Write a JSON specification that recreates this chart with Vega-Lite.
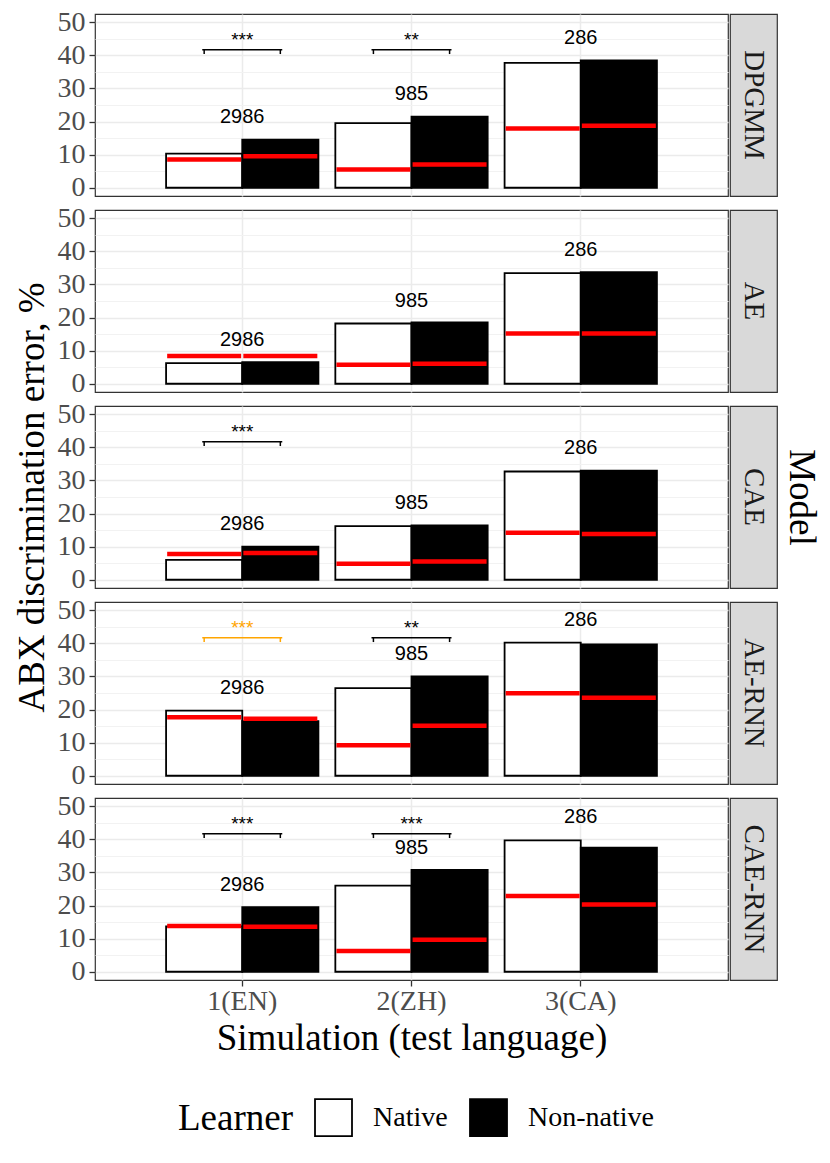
{
  "$schema": "https://vega.github.io/schema/vega-lite/v6.json",
  "background": "white",
  "padding": {"top": 7, "left": 12, "right": 5, "bottom": 5},
  "datasets": {
    "bars": [
      {"Model": "DPGMM", "Simulation": "1(EN)", "Learner": "Native", "error": 10.3, "baseline": 8.5},
      {"Model": "DPGMM", "Simulation": "1(EN)", "Learner": "Non-native", "error": 14.5, "baseline": 9.5},
      {"Model": "DPGMM", "Simulation": "2(ZH)", "Learner": "Native", "error": 19.5, "baseline": 5.5},
      {"Model": "DPGMM", "Simulation": "2(ZH)", "Learner": "Non-native", "error": 21.5, "baseline": 7.0},
      {"Model": "DPGMM", "Simulation": "3(CA)", "Learner": "Native", "error": 37.7, "baseline": 17.9},
      {"Model": "DPGMM", "Simulation": "3(CA)", "Learner": "Non-native", "error": 38.5, "baseline": 18.7},
      {"Model": "AE", "Simulation": "1(EN)", "Learner": "Native", "error": 6.2, "baseline": 8.4},
      {"Model": "AE", "Simulation": "1(EN)", "Learner": "Non-native", "error": 6.5, "baseline": 8.4},
      {"Model": "AE", "Simulation": "2(ZH)", "Learner": "Native", "error": 18.2, "baseline": 5.7},
      {"Model": "AE", "Simulation": "2(ZH)", "Learner": "Non-native", "error": 18.5, "baseline": 6.0},
      {"Model": "AE", "Simulation": "3(CA)", "Learner": "Native", "error": 33.4, "baseline": 15.2},
      {"Model": "AE", "Simulation": "3(CA)", "Learner": "Non-native", "error": 33.7, "baseline": 15.2},
      {"Model": "CAE", "Simulation": "1(EN)", "Learner": "Native", "error": 6.0, "baseline": 7.8},
      {"Model": "CAE", "Simulation": "1(EN)", "Learner": "Non-native", "error": 10.0, "baseline": 8.1},
      {"Model": "CAE", "Simulation": "2(ZH)", "Learner": "Native", "error": 16.2, "baseline": 4.8},
      {"Model": "CAE", "Simulation": "2(ZH)", "Learner": "Non-native", "error": 16.4, "baseline": 5.5},
      {"Model": "CAE", "Simulation": "3(CA)", "Learner": "Native", "error": 32.7, "baseline": 14.2},
      {"Model": "CAE", "Simulation": "3(CA)", "Learner": "Non-native", "error": 33.0, "baseline": 13.8},
      {"Model": "AE-RNN", "Simulation": "1(EN)", "Learner": "Native", "error": 19.7, "baseline": 17.7},
      {"Model": "AE-RNN", "Simulation": "1(EN)", "Learner": "Non-native", "error": 16.5, "baseline": 17.2},
      {"Model": "AE-RNN", "Simulation": "2(ZH)", "Learner": "Native", "error": 26.5, "baseline": 9.2},
      {"Model": "AE-RNN", "Simulation": "2(ZH)", "Learner": "Non-native", "error": 30.0, "baseline": 15.1},
      {"Model": "AE-RNN", "Simulation": "3(CA)", "Learner": "Native", "error": 40.2, "baseline": 24.9},
      {"Model": "AE-RNN", "Simulation": "3(CA)", "Learner": "Non-native", "error": 39.7, "baseline": 23.6},
      {"Model": "CAE-RNN", "Simulation": "1(EN)", "Learner": "Native", "error": 13.7, "baseline": 13.8},
      {"Model": "CAE-RNN", "Simulation": "1(EN)", "Learner": "Non-native", "error": 19.5, "baseline": 13.6},
      {"Model": "CAE-RNN", "Simulation": "2(ZH)", "Learner": "Native", "error": 26.0, "baseline": 6.3},
      {"Model": "CAE-RNN", "Simulation": "2(ZH)", "Learner": "Non-native", "error": 30.8, "baseline": 9.7},
      {"Model": "CAE-RNN", "Simulation": "3(CA)", "Learner": "Native", "error": 39.7, "baseline": 22.9},
      {"Model": "CAE-RNN", "Simulation": "3(CA)", "Learner": "Non-native", "error": 37.5, "baseline": 20.3}
    ],
    "labels": [
      {"Model": "DPGMM", "Simulation": "1(EN)", "n": "2986", "y": 21.5},
      {"Model": "DPGMM", "Simulation": "2(ZH)", "n": "985", "y": 28.2},
      {"Model": "DPGMM", "Simulation": "3(CA)", "n": "286", "y": 45.3},
      {"Model": "AE", "Simulation": "1(EN)", "n": "2986", "y": 13.2},
      {"Model": "AE", "Simulation": "2(ZH)", "n": "985", "y": 25.0},
      {"Model": "AE", "Simulation": "3(CA)", "n": "286", "y": 40.4},
      {"Model": "CAE", "Simulation": "1(EN)", "n": "2986", "y": 16.7},
      {"Model": "CAE", "Simulation": "2(ZH)", "n": "985", "y": 23.3},
      {"Model": "CAE", "Simulation": "3(CA)", "n": "286", "y": 39.7},
      {"Model": "AE-RNN", "Simulation": "1(EN)", "n": "2986", "y": 26.5},
      {"Model": "AE-RNN", "Simulation": "2(ZH)", "n": "985", "y": 36.7},
      {"Model": "AE-RNN", "Simulation": "3(CA)", "n": "286", "y": 47.2},
      {"Model": "CAE-RNN", "Simulation": "1(EN)", "n": "2986", "y": 26.2},
      {"Model": "CAE-RNN", "Simulation": "2(ZH)", "n": "985", "y": 37.5},
      {"Model": "CAE-RNN", "Simulation": "3(CA)", "n": "286", "y": 46.7}
    ],
    "signif": [
      {"Model": "DPGMM", "Simulation": "1(EN)", "Learner": "Native", "stars": "***", "higher": "Non-native", "top": 41.7, "tail": 40.4},
      {"Model": "DPGMM", "Simulation": "1(EN)", "Learner": "Non-native", "stars": "***", "higher": "Non-native", "top": 41.7, "tail": 40.4},
      {"Model": "DPGMM", "Simulation": "2(ZH)", "Learner": "Native", "stars": "**", "higher": "Non-native", "top": 41.7, "tail": 40.4},
      {"Model": "DPGMM", "Simulation": "2(ZH)", "Learner": "Non-native", "stars": "**", "higher": "Non-native", "top": 41.7, "tail": 40.4},
      {"Model": "CAE", "Simulation": "1(EN)", "Learner": "Native", "stars": "***", "higher": "Non-native", "top": 41.7, "tail": 40.4},
      {"Model": "CAE", "Simulation": "1(EN)", "Learner": "Non-native", "stars": "***", "higher": "Non-native", "top": 41.7, "tail": 40.4},
      {"Model": "AE-RNN", "Simulation": "1(EN)", "Learner": "Native", "stars": "***", "higher": "Native", "top": 41.7, "tail": 40.4},
      {"Model": "AE-RNN", "Simulation": "1(EN)", "Learner": "Non-native", "stars": "***", "higher": "Native", "top": 41.7, "tail": 40.4},
      {"Model": "AE-RNN", "Simulation": "2(ZH)", "Learner": "Native", "stars": "**", "higher": "Non-native", "top": 41.7, "tail": 40.4},
      {"Model": "AE-RNN", "Simulation": "2(ZH)", "Learner": "Non-native", "stars": "**", "higher": "Non-native", "top": 41.7, "tail": 40.4},
      {"Model": "CAE-RNN", "Simulation": "1(EN)", "Learner": "Native", "stars": "***", "higher": "Non-native", "top": 41.7, "tail": 40.4},
      {"Model": "CAE-RNN", "Simulation": "1(EN)", "Learner": "Non-native", "stars": "***", "higher": "Non-native", "top": 41.7, "tail": 40.4},
      {"Model": "CAE-RNN", "Simulation": "2(ZH)", "Learner": "Native", "stars": "***", "higher": "Non-native", "top": 41.7, "tail": 40.4},
      {"Model": "CAE-RNN", "Simulation": "2(ZH)", "Learner": "Non-native", "stars": "***", "higher": "Non-native", "top": 41.7, "tail": 40.4}
    ]
  },
  "columns": 2,
  "bounds": "flush",
  "spacing": {"row": 14, "column": 2},
  "concat": [
    {
      "width": 633, "height": 182,
      "encoding": {"x": {"field": "Simulation", "type": "nominal", "sort": ["1(EN)", "2(ZH)", "3(CA)"], "scale": {"paddingInner": 0.1, "paddingOuter": 0.42}, "axis": {"bandPosition": 0.5, "grid": true, "gridColor": "#EBEBEB", "gridWidth": 1.5, "labels": false, "ticks": false, "domain": false, "title": null}}},
      "layer": [
        {"data": {"name": "bars"}, "transform": [{"filter": "datum.Model === 'DPGMM'"}],
         "mark": {"type": "bar", "stroke": "black", "strokeWidth": 1.8, "opacity": 1},
         "encoding": {
           "xOffset": {"field": "Learner", "type": "nominal", "sort": ["Native", "Non-native"], "scale": {"paddingInner": 0, "paddingOuter": 0}},
           "y": {"field": "error", "type": "quantitative", "stack": null, "scale": {"domain": [-2.5, 52.5], "nice": false, "zero": false}, "axis": {"values": [0, 10, 20, 30, 40, 50], "grid": true, "gridColor": "#EBEBEB", "gridWidth": 1.5, "domain": false, "tickColor": "#333333", "tickSize": 6, "tickWidth": 1.3, "labelFont": "Liberation Serif", "labelFontSize": 28, "labelColor": "#4D4D4D", "labelPadding": 4, "title": null}},
           "fill": {"field": "Learner", "type": "nominal", "scale": {"domain": ["Native", "Non-native"], "range": ["white", "black"]}, "legend": {"title": "Learner"}}
         }},
        {"data": {"name": "bars"}, "transform": [{"filter": "datum.Model === 'DPGMM'"}],
         "mark": {"type": "tick", "color": "#FF0000", "thickness": 4.5, "size": 74, "opacity": 1},
         "encoding": {
           "xOffset": {"field": "Learner", "type": "nominal", "sort": ["Native", "Non-native"], "scale": {"paddingInner": 0, "paddingOuter": 0}},
           "y": {"field": "baseline", "type": "quantitative", "scale": {"domain": [-2.5, 52.5], "nice": false, "zero": false}, "axis": {"orient": "right", "values": [5, 15, 25, 35, 45], "grid": true, "gridColor": "#F2F2F2", "gridWidth": 1, "labels": false, "ticks": false, "domain": false, "title": null}}
         }},
        {"data": {"name": "labels"}, "transform": [{"filter": "datum.Model === 'DPGMM'"}],
         "mark": {"type": "text", "font": "Liberation Sans", "fontSize": 20, "baseline": "middle", "color": "black"},
         "encoding": {"y": {"field": "y", "type": "quantitative", "scale": {"domain": [-2.5, 52.5], "nice": false, "zero": false}, "axis": null}, "text": {"field": "n", "type": "nominal"}}},
        {"data": {"name": "signif"}, "transform": [{"filter": "datum.Model === 'DPGMM' && datum.Learner === 'Native'"}],
         "mark": {"type": "tick", "thickness": 1.5, "size": 80, "opacity": 1},
         "encoding": {"y": {"field": "top", "type": "quantitative", "scale": {"domain": [-2.5, 52.5], "nice": false, "zero": false}, "axis": null}, "color": {"field": "higher", "type": "nominal", "scale": {"domain": ["Non-native", "Native"], "range": ["black", "#FFA500"]}, "legend": null}}},
        {"data": {"name": "signif"}, "transform": [{"filter": "datum.Model === 'DPGMM'"}],
         "mark": {"type": "rule", "strokeWidth": 1.5},
         "encoding": {"xOffset": {"field": "Learner", "type": "nominal", "sort": ["Native", "Non-native"], "scale": {"paddingInner": 0, "paddingOuter": 0}}, "y": {"field": "top", "type": "quantitative", "scale": {"domain": [-2.5, 52.5], "nice": false, "zero": false}, "axis": null}, "y2": {"field": "tail"}, "color": {"field": "higher", "type": "nominal", "scale": {"domain": ["Non-native", "Native"], "range": ["black", "#FFA500"]}, "legend": null}}},
        {"data": {"name": "signif"}, "transform": [{"filter": "datum.Model === 'DPGMM' && datum.Learner === 'Native'"}],
         "mark": {"type": "text", "font": "Liberation Sans", "fontSize": 19, "baseline": "alphabetic", "dy": -4},
         "encoding": {"y": {"field": "top", "type": "quantitative", "scale": {"domain": [-2.5, 52.5], "nice": false, "zero": false}, "axis": null}, "text": {"field": "stars", "type": "nominal"}, "color": {"field": "higher", "type": "nominal", "scale": {"domain": ["Non-native", "Native"], "range": ["black", "#FFA500"]}, "legend": null}}}
      ],
      "resolve": {"axis": {"y": "independent"}}
    },
    {
      "width": 47, "height": 182,
      "view": {"fill": "#D9D9D9", "stroke": "#333333", "strokeWidth": 1.2},
      "data": {"values": [{"Model": "DPGMM"}]},
      "mark": {"type": "text", "angle": 90, "font": "Liberation Serif", "fontSize": 29, "color": "#1A1A1A", "baseline": "middle", "align": "center"},
      "encoding": {"text": {"field": "Model", "type": "nominal"}}
    },
    {
      "width": 633, "height": 182,
      "encoding": {"x": {"field": "Simulation", "type": "nominal", "sort": ["1(EN)", "2(ZH)", "3(CA)"], "scale": {"paddingInner": 0.1, "paddingOuter": 0.42}, "axis": {"bandPosition": 0.5, "grid": true, "gridColor": "#EBEBEB", "gridWidth": 1.5, "labels": false, "ticks": false, "domain": false, "title": null}}},
      "layer": [
        {"data": {"name": "bars"}, "transform": [{"filter": "datum.Model === 'AE'"}],
         "mark": {"type": "bar", "stroke": "black", "strokeWidth": 1.8, "opacity": 1},
         "encoding": {
           "xOffset": {"field": "Learner", "type": "nominal", "sort": ["Native", "Non-native"], "scale": {"paddingInner": 0, "paddingOuter": 0}},
           "y": {"field": "error", "type": "quantitative", "stack": null, "scale": {"domain": [-2.5, 52.5], "nice": false, "zero": false}, "axis": {"values": [0, 10, 20, 30, 40, 50], "grid": true, "gridColor": "#EBEBEB", "gridWidth": 1.5, "domain": false, "tickColor": "#333333", "tickSize": 6, "tickWidth": 1.3, "labelFont": "Liberation Serif", "labelFontSize": 28, "labelColor": "#4D4D4D", "labelPadding": 4, "title": null}},
           "fill": {"field": "Learner", "type": "nominal", "scale": {"domain": ["Native", "Non-native"], "range": ["white", "black"]}, "legend": {"title": "Learner"}}
         }},
        {"data": {"name": "bars"}, "transform": [{"filter": "datum.Model === 'AE'"}],
         "mark": {"type": "tick", "color": "#FF0000", "thickness": 4.5, "size": 74, "opacity": 1},
         "encoding": {
           "xOffset": {"field": "Learner", "type": "nominal", "sort": ["Native", "Non-native"], "scale": {"paddingInner": 0, "paddingOuter": 0}},
           "y": {"field": "baseline", "type": "quantitative", "scale": {"domain": [-2.5, 52.5], "nice": false, "zero": false}, "axis": {"orient": "right", "values": [5, 15, 25, 35, 45], "grid": true, "gridColor": "#F2F2F2", "gridWidth": 1, "labels": false, "ticks": false, "domain": false, "title": null}}
         }},
        {"data": {"name": "labels"}, "transform": [{"filter": "datum.Model === 'AE'"}],
         "mark": {"type": "text", "font": "Liberation Sans", "fontSize": 20, "baseline": "middle", "color": "black"},
         "encoding": {"y": {"field": "y", "type": "quantitative", "scale": {"domain": [-2.5, 52.5], "nice": false, "zero": false}, "axis": null}, "text": {"field": "n", "type": "nominal"}}}
      ],
      "resolve": {"axis": {"y": "independent"}}
    },
    {
      "width": 47, "height": 182,
      "view": {"fill": "#D9D9D9", "stroke": "#333333", "strokeWidth": 1.2},
      "data": {"values": [{"Model": "AE"}]},
      "mark": {"type": "text", "angle": 90, "font": "Liberation Serif", "fontSize": 29, "color": "#1A1A1A", "baseline": "middle", "align": "center"},
      "encoding": {"text": {"field": "Model", "type": "nominal"}}
    },
    {
      "width": 633, "height": 182,
      "encoding": {"x": {"field": "Simulation", "type": "nominal", "sort": ["1(EN)", "2(ZH)", "3(CA)"], "scale": {"paddingInner": 0.1, "paddingOuter": 0.42}, "axis": {"bandPosition": 0.5, "grid": true, "gridColor": "#EBEBEB", "gridWidth": 1.5, "labels": false, "ticks": false, "domain": false, "title": null}}},
      "layer": [
        {"data": {"name": "bars"}, "transform": [{"filter": "datum.Model === 'CAE'"}],
         "mark": {"type": "bar", "stroke": "black", "strokeWidth": 1.8, "opacity": 1},
         "encoding": {
           "xOffset": {"field": "Learner", "type": "nominal", "sort": ["Native", "Non-native"], "scale": {"paddingInner": 0, "paddingOuter": 0}},
           "y": {"field": "error", "type": "quantitative", "stack": null, "scale": {"domain": [-2.5, 52.5], "nice": false, "zero": false}, "axis": {"values": [0, 10, 20, 30, 40, 50], "grid": true, "gridColor": "#EBEBEB", "gridWidth": 1.5, "domain": false, "tickColor": "#333333", "tickSize": 6, "tickWidth": 1.3, "labelFont": "Liberation Serif", "labelFontSize": 28, "labelColor": "#4D4D4D", "labelPadding": 4, "title": "ABX discrimination error, %", "titleFont": "Liberation Serif", "titleFontSize": 37, "titleFontWeight": "normal", "titleColor": "black", "titlePadding": 6}},
           "fill": {"field": "Learner", "type": "nominal", "scale": {"domain": ["Native", "Non-native"], "range": ["white", "black"]}, "legend": {"title": "Learner"}}
         }},
        {"data": {"name": "bars"}, "transform": [{"filter": "datum.Model === 'CAE'"}],
         "mark": {"type": "tick", "color": "#FF0000", "thickness": 4.5, "size": 74, "opacity": 1},
         "encoding": {
           "xOffset": {"field": "Learner", "type": "nominal", "sort": ["Native", "Non-native"], "scale": {"paddingInner": 0, "paddingOuter": 0}},
           "y": {"field": "baseline", "type": "quantitative", "scale": {"domain": [-2.5, 52.5], "nice": false, "zero": false}, "axis": {"orient": "right", "values": [5, 15, 25, 35, 45], "grid": true, "gridColor": "#F2F2F2", "gridWidth": 1, "labels": false, "ticks": false, "domain": false, "title": null}}
         }},
        {"data": {"name": "labels"}, "transform": [{"filter": "datum.Model === 'CAE'"}],
         "mark": {"type": "text", "font": "Liberation Sans", "fontSize": 20, "baseline": "middle", "color": "black"},
         "encoding": {"y": {"field": "y", "type": "quantitative", "scale": {"domain": [-2.5, 52.5], "nice": false, "zero": false}, "axis": null}, "text": {"field": "n", "type": "nominal"}}},
        {"data": {"name": "signif"}, "transform": [{"filter": "datum.Model === 'CAE' && datum.Learner === 'Native'"}],
         "mark": {"type": "tick", "thickness": 1.5, "size": 80, "opacity": 1},
         "encoding": {"y": {"field": "top", "type": "quantitative", "scale": {"domain": [-2.5, 52.5], "nice": false, "zero": false}, "axis": null}, "color": {"field": "higher", "type": "nominal", "scale": {"domain": ["Non-native", "Native"], "range": ["black", "#FFA500"]}, "legend": null}}},
        {"data": {"name": "signif"}, "transform": [{"filter": "datum.Model === 'CAE'"}],
         "mark": {"type": "rule", "strokeWidth": 1.5},
         "encoding": {"xOffset": {"field": "Learner", "type": "nominal", "sort": ["Native", "Non-native"], "scale": {"paddingInner": 0, "paddingOuter": 0}}, "y": {"field": "top", "type": "quantitative", "scale": {"domain": [-2.5, 52.5], "nice": false, "zero": false}, "axis": null}, "y2": {"field": "tail"}, "color": {"field": "higher", "type": "nominal", "scale": {"domain": ["Non-native", "Native"], "range": ["black", "#FFA500"]}, "legend": null}}},
        {"data": {"name": "signif"}, "transform": [{"filter": "datum.Model === 'CAE' && datum.Learner === 'Native'"}],
         "mark": {"type": "text", "font": "Liberation Sans", "fontSize": 19, "baseline": "alphabetic", "dy": -4},
         "encoding": {"y": {"field": "top", "type": "quantitative", "scale": {"domain": [-2.5, 52.5], "nice": false, "zero": false}, "axis": null}, "text": {"field": "stars", "type": "nominal"}, "color": {"field": "higher", "type": "nominal", "scale": {"domain": ["Non-native", "Native"], "range": ["black", "#FFA500"]}, "legend": null}}}
      ],
      "resolve": {"axis": {"y": "independent"}}
    },
    {
      "width": 47, "height": 182,
      "view": {"fill": "#D9D9D9", "stroke": "#333333", "strokeWidth": 1.2},
      "data": {"values": [{"Model": "CAE"}]},
      "mark": {"type": "text", "angle": 90, "font": "Liberation Serif", "fontSize": 29, "color": "#1A1A1A", "baseline": "middle", "align": "center"},
      "encoding": {
        "text": {"field": "Model", "type": "nominal"},
        "y": {"field": "Model", "type": "nominal", "axis": {"orient": "right", "title": "Model", "labels": false, "ticks": false, "domain": false, "grid": false, "titleFont": "Liberation Serif", "titleFontSize": 37, "titleFontWeight": "normal", "titleColor": "black", "titlePadding": 4}}
      }
    },
    {
      "width": 633, "height": 182,
      "encoding": {"x": {"field": "Simulation", "type": "nominal", "sort": ["1(EN)", "2(ZH)", "3(CA)"], "scale": {"paddingInner": 0.1, "paddingOuter": 0.42}, "axis": {"bandPosition": 0.5, "grid": true, "gridColor": "#EBEBEB", "gridWidth": 1.5, "labels": false, "ticks": false, "domain": false, "title": null}}},
      "layer": [
        {"data": {"name": "bars"}, "transform": [{"filter": "datum.Model === 'AE-RNN'"}],
         "mark": {"type": "bar", "stroke": "black", "strokeWidth": 1.8, "opacity": 1},
         "encoding": {
           "xOffset": {"field": "Learner", "type": "nominal", "sort": ["Native", "Non-native"], "scale": {"paddingInner": 0, "paddingOuter": 0}},
           "y": {"field": "error", "type": "quantitative", "stack": null, "scale": {"domain": [-2.5, 52.5], "nice": false, "zero": false}, "axis": {"values": [0, 10, 20, 30, 40, 50], "grid": true, "gridColor": "#EBEBEB", "gridWidth": 1.5, "domain": false, "tickColor": "#333333", "tickSize": 6, "tickWidth": 1.3, "labelFont": "Liberation Serif", "labelFontSize": 28, "labelColor": "#4D4D4D", "labelPadding": 4, "title": null}},
           "fill": {"field": "Learner", "type": "nominal", "scale": {"domain": ["Native", "Non-native"], "range": ["white", "black"]}, "legend": {"title": "Learner"}}
         }},
        {"data": {"name": "bars"}, "transform": [{"filter": "datum.Model === 'AE-RNN'"}],
         "mark": {"type": "tick", "color": "#FF0000", "thickness": 4.5, "size": 74, "opacity": 1},
         "encoding": {
           "xOffset": {"field": "Learner", "type": "nominal", "sort": ["Native", "Non-native"], "scale": {"paddingInner": 0, "paddingOuter": 0}},
           "y": {"field": "baseline", "type": "quantitative", "scale": {"domain": [-2.5, 52.5], "nice": false, "zero": false}, "axis": {"orient": "right", "values": [5, 15, 25, 35, 45], "grid": true, "gridColor": "#F2F2F2", "gridWidth": 1, "labels": false, "ticks": false, "domain": false, "title": null}}
         }},
        {"data": {"name": "labels"}, "transform": [{"filter": "datum.Model === 'AE-RNN'"}],
         "mark": {"type": "text", "font": "Liberation Sans", "fontSize": 20, "baseline": "middle", "color": "black"},
         "encoding": {"y": {"field": "y", "type": "quantitative", "scale": {"domain": [-2.5, 52.5], "nice": false, "zero": false}, "axis": null}, "text": {"field": "n", "type": "nominal"}}},
        {"data": {"name": "signif"}, "transform": [{"filter": "datum.Model === 'AE-RNN' && datum.Learner === 'Native'"}],
         "mark": {"type": "tick", "thickness": 1.5, "size": 80, "opacity": 1},
         "encoding": {"y": {"field": "top", "type": "quantitative", "scale": {"domain": [-2.5, 52.5], "nice": false, "zero": false}, "axis": null}, "color": {"field": "higher", "type": "nominal", "scale": {"domain": ["Non-native", "Native"], "range": ["black", "#FFA500"]}, "legend": null}}},
        {"data": {"name": "signif"}, "transform": [{"filter": "datum.Model === 'AE-RNN'"}],
         "mark": {"type": "rule", "strokeWidth": 1.5},
         "encoding": {"xOffset": {"field": "Learner", "type": "nominal", "sort": ["Native", "Non-native"], "scale": {"paddingInner": 0, "paddingOuter": 0}}, "y": {"field": "top", "type": "quantitative", "scale": {"domain": [-2.5, 52.5], "nice": false, "zero": false}, "axis": null}, "y2": {"field": "tail"}, "color": {"field": "higher", "type": "nominal", "scale": {"domain": ["Non-native", "Native"], "range": ["black", "#FFA500"]}, "legend": null}}},
        {"data": {"name": "signif"}, "transform": [{"filter": "datum.Model === 'AE-RNN' && datum.Learner === 'Native'"}],
         "mark": {"type": "text", "font": "Liberation Sans", "fontSize": 19, "baseline": "alphabetic", "dy": -4},
         "encoding": {"y": {"field": "top", "type": "quantitative", "scale": {"domain": [-2.5, 52.5], "nice": false, "zero": false}, "axis": null}, "text": {"field": "stars", "type": "nominal"}, "color": {"field": "higher", "type": "nominal", "scale": {"domain": ["Non-native", "Native"], "range": ["black", "#FFA500"]}, "legend": null}}}
      ],
      "resolve": {"axis": {"y": "independent"}}
    },
    {
      "width": 47, "height": 182,
      "view": {"fill": "#D9D9D9", "stroke": "#333333", "strokeWidth": 1.2},
      "data": {"values": [{"Model": "AE-RNN"}]},
      "mark": {"type": "text", "angle": 90, "font": "Liberation Serif", "fontSize": 29, "color": "#1A1A1A", "baseline": "middle", "align": "center"},
      "encoding": {"text": {"field": "Model", "type": "nominal"}}
    },
    {
      "width": 633, "height": 182,
      "encoding": {"x": {"field": "Simulation", "type": "nominal", "sort": ["1(EN)", "2(ZH)", "3(CA)"], "scale": {"paddingInner": 0.1, "paddingOuter": 0.42}, "axis": {"bandPosition": 0.5, "grid": true, "gridColor": "#EBEBEB", "gridWidth": 1.5, "domain": false, "ticks": true, "tickColor": "#333333", "tickSize": 6, "tickWidth": 1.3, "labelFont": "Liberation Serif", "labelFontSize": 28, "labelColor": "#4D4D4D", "labelPadding": 1, "labelAngle": 0, "title": "Simulation (test language)", "titleFont": "Liberation Serif", "titleFontSize": 37, "titleFontWeight": "normal", "titleColor": "black", "titlePadding": 5}}},
      "layer": [
        {"data": {"name": "bars"}, "transform": [{"filter": "datum.Model === 'CAE-RNN'"}],
         "mark": {"type": "bar", "stroke": "black", "strokeWidth": 1.8, "opacity": 1},
         "encoding": {
           "xOffset": {"field": "Learner", "type": "nominal", "sort": ["Native", "Non-native"], "scale": {"paddingInner": 0, "paddingOuter": 0}},
           "y": {"field": "error", "type": "quantitative", "stack": null, "scale": {"domain": [-2.5, 52.5], "nice": false, "zero": false}, "axis": {"values": [0, 10, 20, 30, 40, 50], "grid": true, "gridColor": "#EBEBEB", "gridWidth": 1.5, "domain": false, "tickColor": "#333333", "tickSize": 6, "tickWidth": 1.3, "labelFont": "Liberation Serif", "labelFontSize": 28, "labelColor": "#4D4D4D", "labelPadding": 4, "title": null}},
           "fill": {"field": "Learner", "type": "nominal", "scale": {"domain": ["Native", "Non-native"], "range": ["white", "black"]}, "legend": {"title": "Learner"}}
         }},
        {"data": {"name": "bars"}, "transform": [{"filter": "datum.Model === 'CAE-RNN'"}],
         "mark": {"type": "tick", "color": "#FF0000", "thickness": 4.5, "size": 74, "opacity": 1},
         "encoding": {
           "xOffset": {"field": "Learner", "type": "nominal", "sort": ["Native", "Non-native"], "scale": {"paddingInner": 0, "paddingOuter": 0}},
           "y": {"field": "baseline", "type": "quantitative", "scale": {"domain": [-2.5, 52.5], "nice": false, "zero": false}, "axis": {"orient": "right", "values": [5, 15, 25, 35, 45], "grid": true, "gridColor": "#F2F2F2", "gridWidth": 1, "labels": false, "ticks": false, "domain": false, "title": null}}
         }},
        {"data": {"name": "labels"}, "transform": [{"filter": "datum.Model === 'CAE-RNN'"}],
         "mark": {"type": "text", "font": "Liberation Sans", "fontSize": 20, "baseline": "middle", "color": "black"},
         "encoding": {"y": {"field": "y", "type": "quantitative", "scale": {"domain": [-2.5, 52.5], "nice": false, "zero": false}, "axis": null}, "text": {"field": "n", "type": "nominal"}}},
        {"data": {"name": "signif"}, "transform": [{"filter": "datum.Model === 'CAE-RNN' && datum.Learner === 'Native'"}],
         "mark": {"type": "tick", "thickness": 1.5, "size": 80, "opacity": 1},
         "encoding": {"y": {"field": "top", "type": "quantitative", "scale": {"domain": [-2.5, 52.5], "nice": false, "zero": false}, "axis": null}, "color": {"field": "higher", "type": "nominal", "scale": {"domain": ["Non-native", "Native"], "range": ["black", "#FFA500"]}, "legend": null}}},
        {"data": {"name": "signif"}, "transform": [{"filter": "datum.Model === 'CAE-RNN'"}],
         "mark": {"type": "rule", "strokeWidth": 1.5},
         "encoding": {"xOffset": {"field": "Learner", "type": "nominal", "sort": ["Native", "Non-native"], "scale": {"paddingInner": 0, "paddingOuter": 0}}, "y": {"field": "top", "type": "quantitative", "scale": {"domain": [-2.5, 52.5], "nice": false, "zero": false}, "axis": null}, "y2": {"field": "tail"}, "color": {"field": "higher", "type": "nominal", "scale": {"domain": ["Non-native", "Native"], "range": ["black", "#FFA500"]}, "legend": null}}},
        {"data": {"name": "signif"}, "transform": [{"filter": "datum.Model === 'CAE-RNN' && datum.Learner === 'Native'"}],
         "mark": {"type": "text", "font": "Liberation Sans", "fontSize": 19, "baseline": "alphabetic", "dy": -4},
         "encoding": {"y": {"field": "top", "type": "quantitative", "scale": {"domain": [-2.5, 52.5], "nice": false, "zero": false}, "axis": null}, "text": {"field": "stars", "type": "nominal"}, "color": {"field": "higher", "type": "nominal", "scale": {"domain": ["Non-native", "Native"], "range": ["black", "#FFA500"]}, "legend": null}}}
      ],
      "resolve": {"axis": {"y": "independent"}}
    },
    {
      "width": 47, "height": 182,
      "view": {"fill": "#D9D9D9", "stroke": "#333333", "strokeWidth": 1.2},
      "data": {"values": [{"Model": "CAE-RNN"}]},
      "mark": {"type": "text", "angle": 90, "font": "Liberation Serif", "fontSize": 29, "color": "#1A1A1A", "baseline": "middle", "align": "center"},
      "encoding": {"text": {"field": "Model", "type": "nominal"}}
    }
  ],
  "config": {
    "view": {"stroke": "#333333", "strokeWidth": 1.2},
    "legend": {"orient": "bottom", "direction": "horizontal", "titleOrient": "left", "titleFont": "Liberation Serif", "titleFontSize": 37, "titleFontWeight": "normal", "titleColor": "black", "labelFont": "Liberation Serif", "labelFontSize": 28, "labelColor": "black", "symbolType": "square", "symbolSize": 1369, "symbolStrokeColor": "black", "symbolStrokeWidth": 1.8, "labelOffset": 20, "columnPadding": 18, "offset": 41, "titlePadding": 20, "layout": {"bottom": {"anchor": "middle"}}}
  }
}
